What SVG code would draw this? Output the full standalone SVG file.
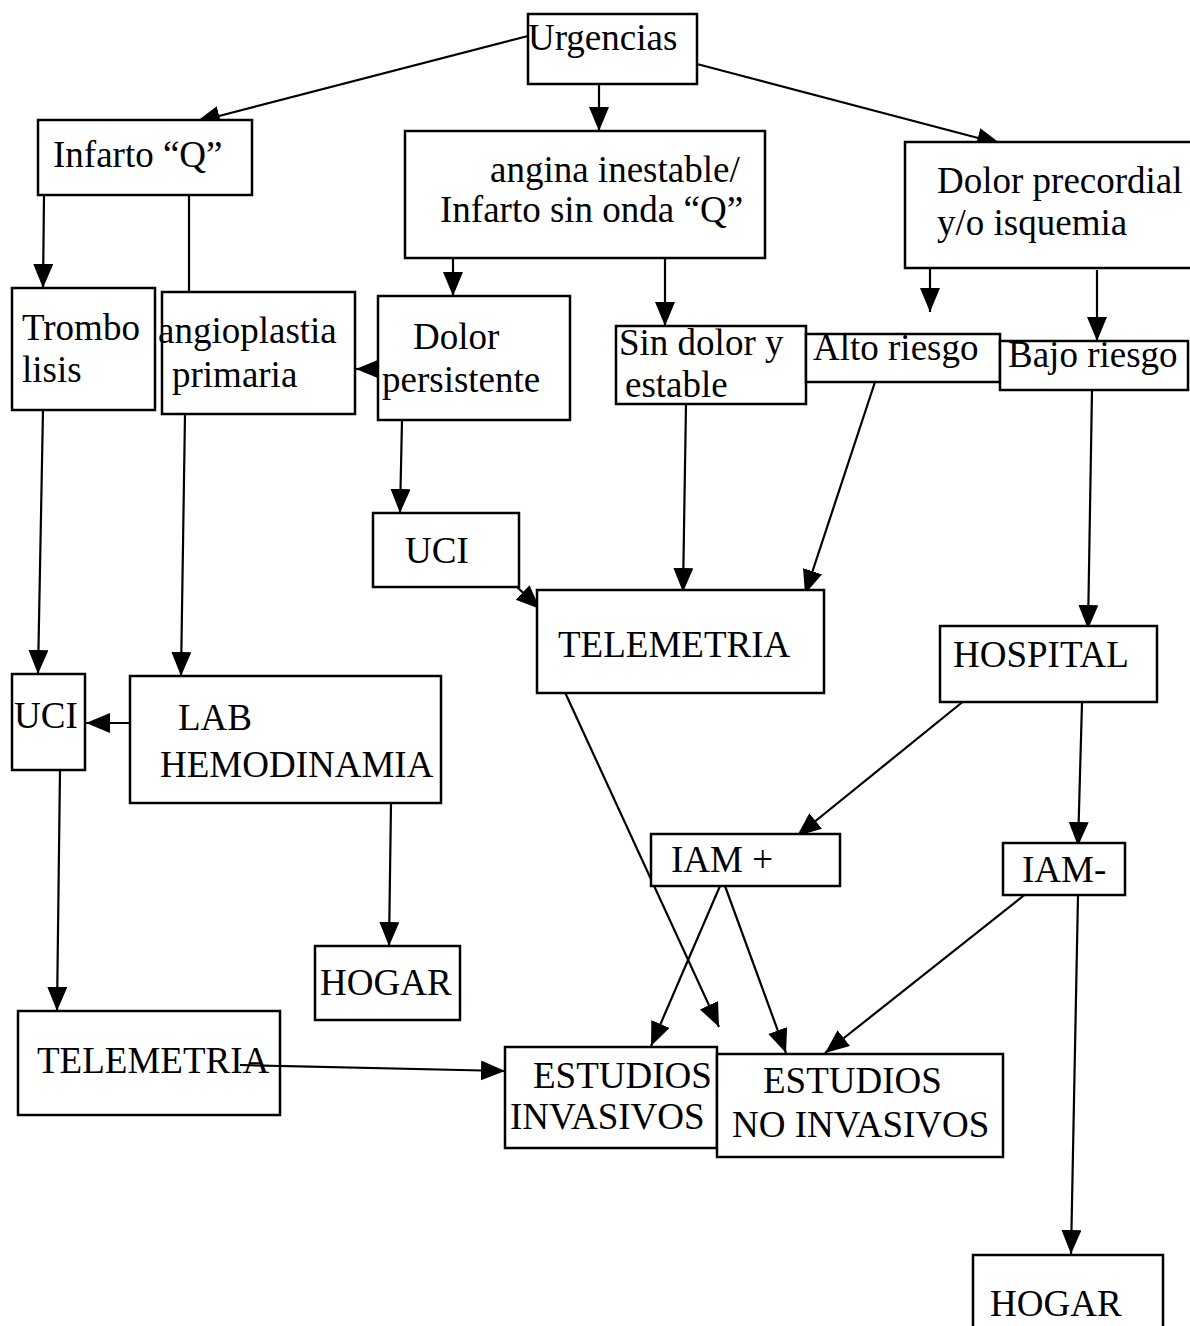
<svg xmlns="http://www.w3.org/2000/svg" width="1190" height="1326" viewBox="0 0 1190 1326">
  <style>
    .box { fill: #fff; stroke: #000; stroke-width: 2.5; }
    .lbl { font-family: "Liberation Serif", "Times New Roman", serif; font-size: 37px; fill: #000; }
    .edge { fill: none; stroke: #000; stroke-width: 2.2; }
    .arr { marker-end: url(#head); }
  </style>
  <defs>
    <marker id="head" markerUnits="userSpaceOnUse" markerWidth="26" markerHeight="22" refX="24" refY="10" orient="auto">
      <path d="M0,0 L24,10 L0,20 z" fill="#000"/>
    </marker>
  </defs>

  <rect width="1190" height="1326" fill="#fff"/>

  <!-- connectors -->
  <g id="connectors">
    <path class="edge arr" d="M528,36 L196,122"/>
    <path class="edge arr" d="M599,84 L599,131"/>
    <path class="edge arr" d="M697,64 L1001,144"/>
    <path class="edge arr" d="M44,195 L43,288"/>
    <path class="edge" d="M189,195 L189,291"/>
    <path class="edge arr" d="M185,414 L181,676"/>
    <path class="edge arr" d="M43,410 L38,674"/>
    <path class="edge arr" d="M453,258 L453,296"/>
    <path class="edge arr" d="M665,258 L665,326"/>
    <path class="edge arr" d="M378,369 L356,369"/>
    <path class="edge arr" d="M402,420 L400,513"/>
    <path class="edge arr" d="M517,587 L540,609"/>
    <path class="edge arr" d="M686,404 L683,592"/>
    <path class="edge arr" d="M875,382 L805,594"/>
    <path class="edge arr" d="M930,262 L930,312"/>
    <path class="edge arr" d="M1097,270 L1097,341"/>
    <path class="edge arr" d="M1092,390 L1088,629"/>
    <path class="edge arr" d="M965,700 L797,836"/>
    <path class="edge arr" d="M1082,703 L1078,846"/>
    <path class="edge arr" d="M130,723 L86,723"/>
    <path class="edge arr" d="M391,803 L389,946"/>
    <path class="edge arr" d="M60,770 L57,1011"/>
    <path class="edge arr" d="M240,1065 L505,1071"/>
    <path class="edge arr" d="M563,688 L719,1027"/>
    <path class="edge arr" d="M720,886 L651,1046"/>
    <path class="edge arr" d="M725,886 L786,1053"/>
    <path class="edge arr" d="M1027,893 L825,1053"/>
    <path class="edge arr" d="M1078,895 L1071,1254"/>
  </g>

  <!-- nodes -->
  <g id="urgencias">
    <rect class="box" x="528" y="14" width="169" height="70"/>
    <text class="lbl" x="528" y="50">Urgencias</text>
  </g>
  <g id="infarto-q">
    <rect class="box" x="38" y="120" width="214" height="75"/>
    <text class="lbl" x="53" y="167">Infarto “Q”</text>
  </g>
  <g id="angina">
    <rect class="box" x="405" y="131" width="360" height="127"/>
    <text class="lbl" x="490" y="182">angina inestable/</text>
    <text class="lbl" x="440" y="222">Infarto sin onda “Q”</text>
  </g>
  <g id="dolor-precordial">
    <rect class="box" x="905" y="142" width="300" height="126"/>
    <text class="lbl" x="937" y="193">Dolor precordial</text>
    <text class="lbl" x="937" y="235">y/o isquemia</text>
  </g>
  <g id="trombolisis">
    <rect class="box" x="12" y="288" width="143" height="122"/>
    <text class="lbl" x="22" y="340">Trombo</text>
    <text class="lbl" x="22" y="382">lisis</text>
  </g>
  <g id="angioplastia">
    <rect class="box" x="162" y="292" width="193" height="122"/>
    <text class="lbl" x="158" y="343">angioplastia</text>
    <text class="lbl" x="172" y="387">primaria</text>
  </g>
  <g id="dolor-persistente">
    <rect class="box" x="378" y="296" width="192" height="124"/>
    <text class="lbl" x="413" y="349">Dolor</text>
    <text class="lbl" x="382" y="392">persistente</text>
  </g>
  <g id="sin-dolor">
    <rect class="box" x="616" y="326" width="190" height="78"/>
    <text class="lbl" x="619" y="355">Sin dolor y</text>
    <text class="lbl" x="625" y="397">estable</text>
  </g>
  <g id="alto-riesgo">
    <rect class="box" x="806" y="334" width="194" height="48"/>
    <text class="lbl" x="813" y="360">Alto riesgo</text>
  </g>
  <g id="bajo-riesgo">
    <rect class="box" x="1000" y="341" width="188" height="49"/>
    <text class="lbl" x="1008" y="367">Bajo riesgo</text>
  </g>
  <g id="uci-centro">
    <rect class="box" x="373" y="513" width="146" height="74"/>
    <text class="lbl" x="405" y="563">UCI</text>
  </g>
  <g id="telemetria-centro">
    <rect class="box" x="537" y="590" width="287" height="103"/>
    <text class="lbl" x="558" y="657">TELEMETRIA</text>
  </g>
  <g id="hospital">
    <rect class="box" x="940" y="626" width="217" height="76"/>
    <text class="lbl" x="953" y="667">HOSPITAL</text>
  </g>
  <g id="uci-izq">
    <rect class="box" x="12" y="674" width="73" height="96"/>
    <text class="lbl" x="14" y="728">UCI</text>
  </g>
  <g id="lab-hemodinamia">
    <rect class="box" x="130" y="676" width="311" height="127"/>
    <text class="lbl" x="178" y="730">LAB</text>
    <text class="lbl" x="160" y="777">HEMODINAMIA</text>
  </g>
  <g id="iam-pos">
    <rect class="box" x="651" y="834" width="189" height="52"/>
    <text class="lbl" x="671" y="872">IAM +</text>
  </g>
  <g id="iam-neg">
    <rect class="box" x="1003" y="843" width="122" height="52"/>
    <text class="lbl" x="1022" y="882">IAM-</text>
  </g>
  <g id="hogar-centro">
    <rect class="box" x="315" y="946" width="145" height="74"/>
    <text class="lbl" x="320" y="995">HOGAR</text>
  </g>
  <g id="telemetria-izq">
    <rect class="box" x="18" y="1011" width="262" height="104"/>
    <text class="lbl" x="37" y="1073">TELEMETRIA</text>
  </g>
  <g id="estudios-invasivos">
    <rect class="box" x="505" y="1047" width="212" height="101"/>
    <text class="lbl" x="533" y="1088">ESTUDIOS</text>
    <text class="lbl" x="510" y="1129">INVASIVOS</text>
  </g>
  <g id="estudios-no-invasivos">
    <rect class="box" x="717" y="1054" width="286" height="103"/>
    <text class="lbl" x="763" y="1093">ESTUDIOS</text>
    <text class="lbl" x="732" y="1137">NO INVASIVOS</text>
  </g>
  <g id="hogar-der">
    <rect class="box" x="973" y="1255" width="190" height="90"/>
    <text class="lbl" x="990" y="1316">HOGAR</text>
  </g>
  <!-- the telemetry link runs over its own label -->
  <path class="edge" d="M240,1065 L280,1066"/>
</svg>
